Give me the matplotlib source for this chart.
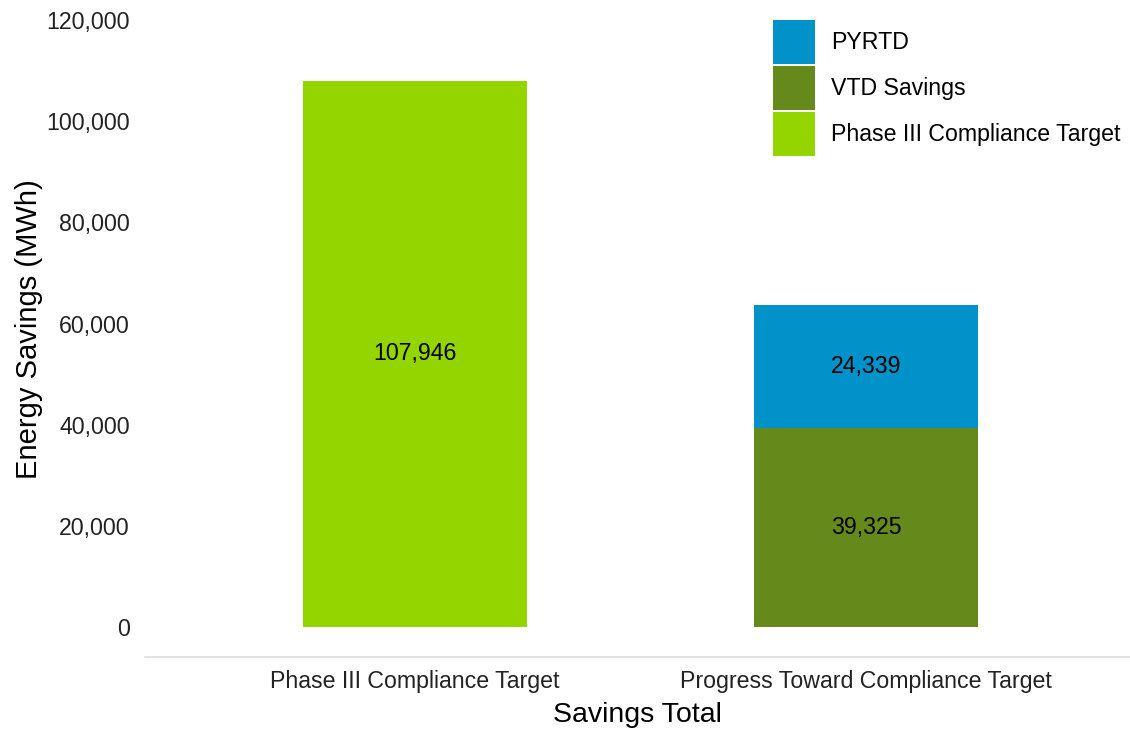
import matplotlib
matplotlib.use("Agg")
import matplotlib.pyplot as plt
from matplotlib.ticker import FuncFormatter

plt.rcParams['font.family'] = ['Liberation Sans', 'DejaVu Sans']

categories = ["Phase III Compliance Target", "Progress Toward Compliance Target"]
target_values = [107946, 0]
vtd_values = [0, 39325]
pyrtd_values = [0, 24339]
yticks = [0, 20000, 40000, 60000, 80000, 100000, 120000]

c_target = "#94D500"
c_vtd = "#658A1B"
c_pyrtd = "#0092C8"

W, H = 1130, 730
fig = plt.figure(figsize=(W / 100, H / 100), dpi=100)
ax = fig.add_axes([145 / W, 1 - 657 / H, 1 - 145 / W, (657 - 20) / H])

x = list(range(len(categories)))
width = 0.497
b_target = ax.bar(x, target_values, width, color=c_target, label="Phase III Compliance Target")
b_vtd = ax.bar(x, vtd_values, width, color=c_vtd, label="VTD Savings")
b_pyrtd = ax.bar(x, pyrtd_values, width, bottom=vtd_values, color=c_pyrtd, label="PYRTD")

fs = 16.7
ax.text(x[0], target_values[0] / 2, f"{target_values[0]:,}", ha="center", va="center", fontsize=fs)
ax.text(x[1], vtd_values[1] / 2, f"{vtd_values[1]:,}", ha="center", va="center", fontsize=fs)
ax.text(x[1], vtd_values[1] + pyrtd_values[1] / 2, f"{pyrtd_values[1]:,}", ha="center", va="center", fontsize=fs)

ax.set_ylim(-5930, 120000)
ax.set_xlim(-0.599, 1.585)
ax.set_yticks(yticks)
ax.yaxis.set_major_formatter(FuncFormatter(lambda v, p: f"{int(v):,}"))
ax.set_xticks(x)
ax.set_xticklabels(categories)
ax.tick_params(axis="both", length=0, labelsize=fs, colors="#222222")
ax.tick_params(axis="y", pad=11)
ax.tick_params(axis="x", pad=9.5)

for s in ["top", "right", "left"]:
    ax.spines[s].set_visible(False)
ax.spines["bottom"].set_color("#dddddd")
ax.spines["bottom"].set_linewidth(1.2)

ax.set_ylabel("Energy Savings (MWh)", fontsize=21, labelpad=2.5)
ax.yaxis.label.set_y(0.514)
ax.set_xlabel("Savings Total", fontsize=20.5, labelpad=6)

handles = [b_pyrtd, b_vtd, b_target]
labels = [h.get_label() for h in handles]
ax.legend(handles, labels, loc="upper left", bbox_to_anchor=(773 / W, 1 - 20 / H),
          bbox_transform=fig.transFigure, frameon=False, fontsize=fs,
          handlelength=1.81, handleheight=2.54, labelspacing=0.09,
          handletextpad=0.68, borderpad=0, borderaxespad=0)

fig.savefig("out.png", dpi=100)
